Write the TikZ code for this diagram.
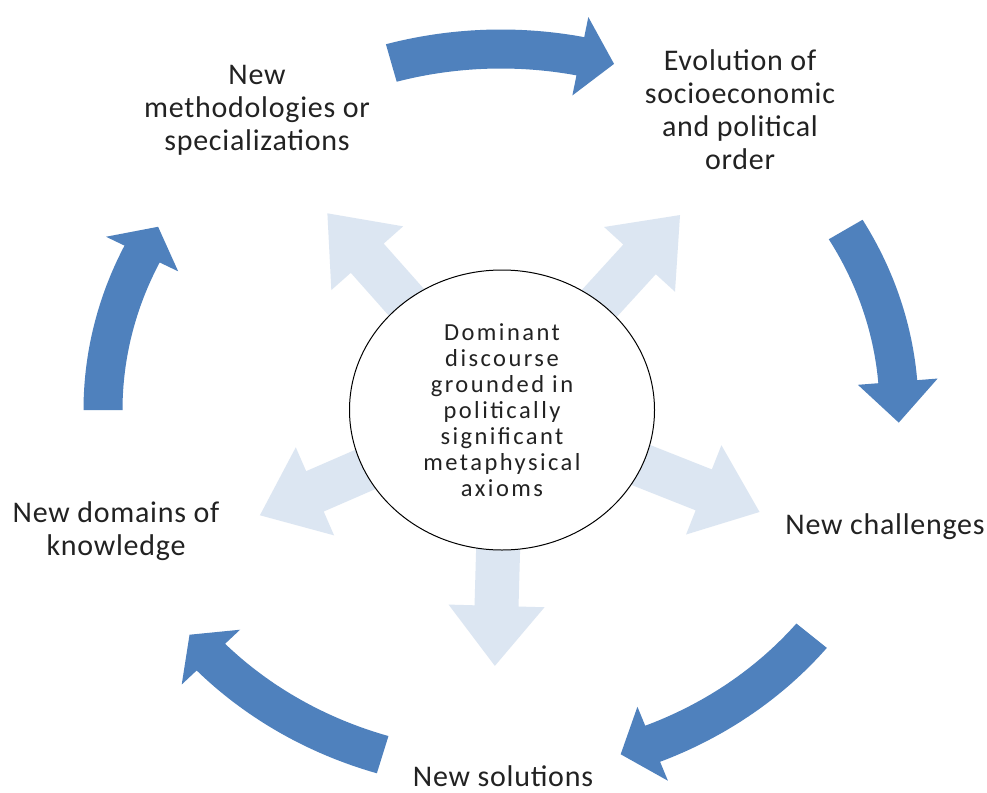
\documentclass[tikz,border=0pt]{standalone}
\usepackage{fontspec}
\setmainfont{Carlito}
\newfontfamily\outerfont[LetterSpace=2.5]{Carlito}
\newfontfamily\innerfont[LetterSpace=10]{Carlito}
\usetikzlibrary{shapes.geometric}
\definecolor{darkblue}{HTML}{4F81BD}
\definecolor{lightblue}{HTML}{DCE6F2}
\definecolor{txt}{HTML}{222222}
% curved block arrow along the ellipse (centre 501,410; radii 398,361)
\newcommand{\cycarrow}[3]{%
  \fill[darkblue] plot[domain=#1:#2, samples=40] ({501+417.5*cos(\x)},{410+380.5*sin(\x)})
   -- ({501+438*cos(#2)},{410+401*sin(#2)})
   -- ({501+398*cos(#3)},{410+361*sin(#3)})
   -- ({501+358*cos(#2)},{410+321*sin(#2)})
   -- plot[domain=#2:#1, samples=40] ({501+378.5*cos(\x)},{410+341.5*sin(\x)})
   -- cycle;}
% straight light block arrow radiating from the centre
\newcommand{\radarrow}[2]{%
  \fill[lightblue, shift={(502,410)}, rotate=#1]
    (0,-22) -- ({#2-60},-22) -- ({#2-60},-48) -- (#2,0) -- ({#2-60},48) -- ({#2-60},22) -- (0,22) -- cycle;}
\tikzset{
  outer/.style={font=\outerfont\fontsize{30}{33}\selectfont, align=center, text=txt, inner sep=0pt},
  core/.style={draw=black, line width=1pt, fill=white, ellipse, minimum width=305pt, minimum height=280pt,
    inner sep=0pt, align=center, text=txt, font=\innerfont\fontsize{24.5}{26}\selectfont}
}
\begin{document}
\begin{tikzpicture}[x=1pt, y=-1pt]
\fill[white] (0,0) rectangle (987,792);
\useasboundingbox (0,0) rectangle (987,792);
% light radial arrows
\radarrow{131.6}{263}
\radarrow{47.6}{264}
\radarrow{203.5}{264}
\radarrow{338.4}{277}
\radarrow{268.4}{256}
% central circle
\node[core] (core) at (502,410) {Dominant\\discourse\\grounded in\\politically\\significant\\metaphysical\\axioms};
% cycle arrows
\cycarrow{254}{281.5}{286.5}
\cycarrow{330}{355.5}{362}
\cycarrow{38.7}{67.6}{72.5}
\cycarrow{107.3}{136.8}{141.5}
\cycarrow{180}{205.6}{210.5}
% labels
\node[outer] (meth) at (257,110) {New\\methodologies or\\specializations};
\node[outer] (evol) at (740,110) {Evolution of\\socioeconomic\\and political\\order};
\node[outer] (chal) at (885,527) {New challenges};
\node[outer, anchor=base] (sol) at (503,786) {New solutions};
\node[outer] (dom) at (116,531) {New domains of\\knowledge};
\end{tikzpicture}
\end{document}
